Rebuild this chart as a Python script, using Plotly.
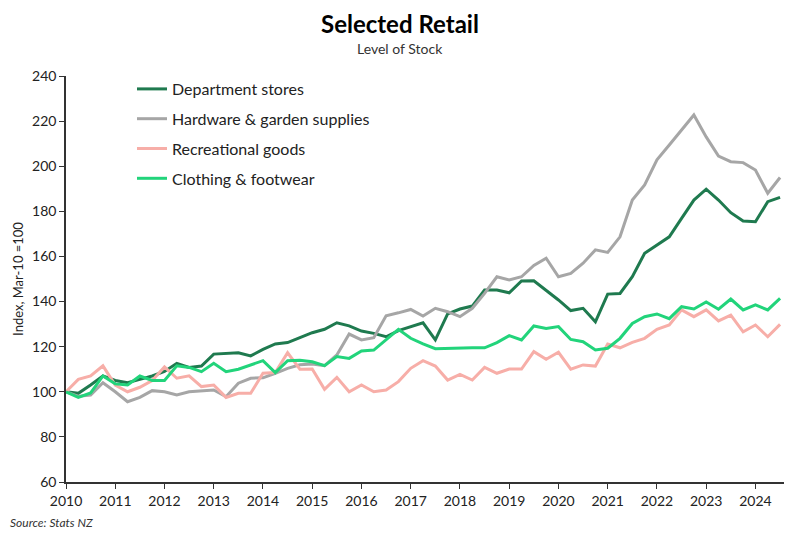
import plotly.graph_objects as go

# Quarterly index values, Mar-2010 = 100
start_year = 2010.0
dept_stores = [100, 99.3, 103, 107, 105, 104, 105.5, 107, 109, 112.6,
               110.8, 111.4, 116.7, 117, 117.3, 115.9, 118.8, 121.2, 121.8, 124,
               126.2, 127.7, 130.6, 129.2, 126.9, 125.9, 124.4, 127.1, 128.9, 130.6,
               123, 134.5, 136.7, 138, 145.1, 145.1, 143.9, 149.1, 149.2, 145,
               140.7, 136, 137, 131, 143.3, 143.6, 151, 161.4, 165, 168.7,
               176.9, 185, 189.8, 185, 179.4, 175.7, 175.4, 184.3, 186.2]
hardware = [100, 98, 98.5, 104, 100, 95.6, 97.5, 100.5, 100, 98.6,
            100, 100.5, 100.8, 97.8, 103.8, 106, 106.2, 108.2, 110.4, 112,
            112.3, 111.6, 116.3, 125.6, 123, 124, 133.7, 135, 136.5, 133.6,
            137, 135.5, 133.3, 137, 143.6, 151, 149.6, 151, 156, 159.2,
            151, 152.5, 157, 162.9, 161.8, 168.7, 185, 191.7, 202.8, 209.4,
            216.3, 222.7, 213, 204.5, 202, 201.6, 198.3, 188, 195]
recreational = [100, 105.5, 107, 111.5, 103, 100, 102, 105, 111, 106,
                107.1, 102.3, 103, 97.5, 99.3, 99.3, 108.2, 108.5, 117.3, 110,
                110.1, 101.1, 106.4, 100, 103, 100, 100.8, 104.5, 110.4, 113.8,
                111.4, 105.2, 107.7, 105.2, 110.8, 108.2, 110.1, 110.1, 117.8, 114.4,
                117.5, 110, 111.9, 111.4, 121.2, 119.5, 121.9, 123.7, 127.7, 129.6,
                136.3, 133.3, 136.3, 131.4, 134, 126.6, 129.6, 124.4, 129.9]
clothing = [100, 97.5, 99.5, 107, 103.5, 103, 107, 105, 105, 111.5,
            110.8, 108.9, 112.6, 108.9, 110, 111.9, 113.8, 108.5, 113.8, 114,
            113.3, 111.6, 115.6, 114.8, 118.1, 118.5, 123, 127.7, 123.7, 121.2,
            119.1, 119.3, 119.5, 119.5, 119.5, 121.8, 124.9, 123, 129.2, 128.1,
            128.9, 123.2, 122.2, 118.5, 119.3, 123.7, 130.3, 133.3, 134.5, 132.4,
            137.7, 136.7, 139.8, 136.6, 141.1, 136.3, 138.5, 136.3, 141.4]

x_vals = [start_year + i / 4 for i in range(len(dept_stores))]
x_ticks = list(range(2010, 2025))
y_ticks = list(range(60, 241, 20))

series = [
    ("Department stores", dept_stores, "#1f7a4f"),
    ("Hardware & garden supplies", hardware, "#a6a6a6"),
    ("Recreational goods", recreational, "#f7aea8"),
    ("Clothing & footwear", clothing, "#22d47b"),
]

FONT = "Lato"
# Plot area in page pixels (page has an 8px body margin)
PL, PR, PT, PB = 66, 784, 76, 482
PW, PH = PR - PL, PB - PT


def paper_x(px):
    return (px - PL) / PW


def paper_y(py):
    return (PB - py) / PH


fig = go.Figure()
for name, vals, color in series:
    fig.add_trace(go.Scatter(
        x=x_vals, y=vals, mode="lines", name=name, legendgroup=name,
        line=dict(color=color, width=3),
    ))

fig.update_layout(
    width=800, height=537,
    paper_bgcolor="white", plot_bgcolor="white",
    margin=dict(l=PL - 8, r=800 - (PR - 8), t=PT - 8, b=537 - (PB - 8)),
    font=dict(family=FONT, color="#222222", size=13),
    showlegend=True,
    legend=dict(
        x=paper_x(132), y=paper_y(72), xanchor="left", yanchor="top",
        font=dict(family=FONT, size=16, color="#222222"),
        bgcolor="rgba(0,0,0,0)", tracegroupgap=6, traceorder="grouped",
        itemwidth=30,
    ),
)

fig.add_annotation(text="<b>Selected Retail</b>", x=paper_x(400), y=paper_y(24),
                   xref="paper", yref="paper", xanchor="center", yanchor="middle",
                   showarrow=False, font=dict(family=FONT, size=24, color="#000000"))
fig.add_annotation(text="Level of Stock", x=paper_x(400), y=paper_y(48),
                   xref="paper", yref="paper", xanchor="center", yanchor="middle",
                   showarrow=False, font=dict(family=FONT, size=14, color="#333333"))
fig.add_annotation(text="<i>Source: Stats NZ</i>", x=paper_x(8), y=paper_y(522),
                   xref="paper", yref="paper", xanchor="left", yanchor="middle",
                   showarrow=False, font=dict(family=FONT, size=12, color="#333333"))

fig.update_xaxes(
    range=[2010, 2024.58], tickmode="array", tickvals=x_ticks,
    ticktext=[str(t) for t in x_ticks],
    showline=True, linecolor="#333333", linewidth=1.5,
    ticks="outside", ticklen=5, tickcolor="#333333",
    showgrid=False, zeroline=False, tickfont=dict(size=14),
    automargin=False,
)
fig.update_yaxes(
    range=[60, 240], tickmode="array", tickvals=y_ticks,
    showline=True, linecolor="#333333", linewidth=1.5,
    ticks="outside", ticklen=5, tickcolor="#333333",
    showgrid=False, zeroline=False, tickfont=dict(size=14),
    title=dict(text="Index, Mar-10 =100", font=dict(size=13), standoff=6),
    automargin=False,
)

fig.write_html("out.html")
